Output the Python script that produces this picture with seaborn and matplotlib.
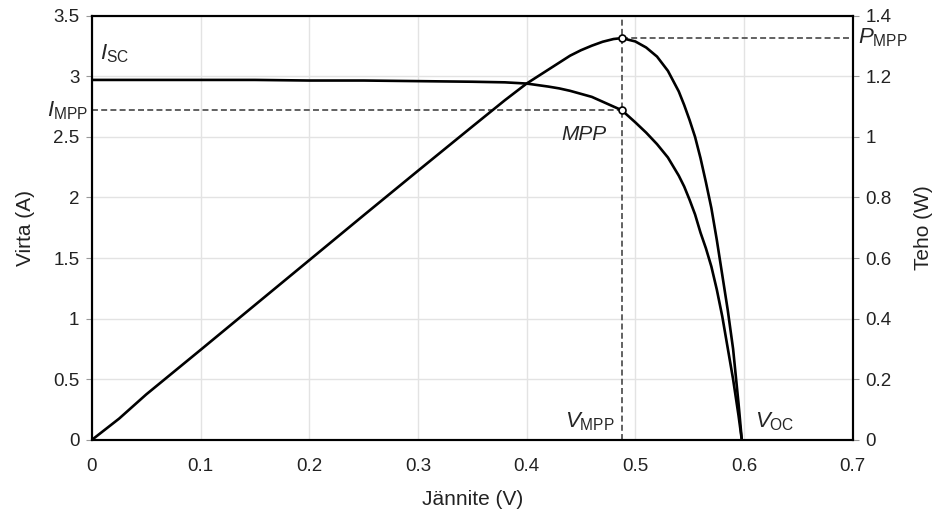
import matplotlib
matplotlib.use("Agg")
import matplotlib.pyplot as plt
import seaborn as sns

# Data read from the I-V / P-V chart of a solar cell
voltage = [0.0, 0.025, 0.05, 0.1, 0.15, 0.2, 0.25, 0.3, 0.35, 0.38, 0.40, 0.42,
           0.43, 0.44, 0.45, 0.46, 0.47, 0.48, 0.4876, 0.50, 0.51, 0.52, 0.53,
           0.54, 0.545, 0.55, 0.555, 0.56, 0.565, 0.57, 0.575, 0.58, 0.585,
           0.59, 0.595, 0.598]
current = [2.97, 2.97, 2.97, 2.97, 2.97, 2.965, 2.965, 2.96, 2.955, 2.95, 2.94,
           2.915, 2.90, 2.88, 2.855, 2.83, 2.79, 2.75, 2.72, 2.62, 2.535, 2.44,
           2.33, 2.18, 2.09, 1.98, 1.86, 1.71, 1.58, 1.43, 1.24, 1.02, 0.76,
           0.50, 0.20, 0.0]
power = [0.0, 0.07, 0.15, 0.297, 0.445, 0.593, 0.741, 0.888, 1.034, 1.121,
         1.176, 1.222, 1.245, 1.268, 1.286, 1.301, 1.314, 1.323, 1.326, 1.315,
         1.295, 1.265, 1.218, 1.15, 1.105, 1.055, 1.0, 0.93, 0.85, 0.765, 0.66,
         0.545, 0.43, 0.30, 0.12, 0.0]

v_mpp = 0.4876
i_mpp = 2.72
p_mpp = 1.326
v_oc = 0.598
i_sc = 2.97

x_ticks = [0, 0.1, 0.2, 0.3, 0.4, 0.5, 0.6, 0.7]
i_ticks = [0, 0.5, 1, 1.5, 2, 2.5, 3, 3.5]
p_ticks = [0, 0.2, 0.4, 0.6, 0.8, 1, 1.2, 1.4]

sns.set_style("whitegrid")
plt.rcParams['font.family'] = ['Liberation Sans', 'DejaVu Sans']
plt.rcParams['mathtext.fontset'] = 'custom'
plt.rcParams['mathtext.rm'] = 'Liberation Sans'
plt.rcParams['mathtext.it'] = 'Liberation Sans:italic'

fig, ax = plt.subplots(figsize=(9.38, 5.23), dpi=100)
fig.subplots_adjust(left=0.098, right=0.909, top=0.970, bottom=0.159)
ax2 = ax.twinx()

sns.lineplot(x=voltage, y=current, ax=ax, color='black', linewidth=1.9, sort=False)
sns.lineplot(x=voltage, y=power, ax=ax2, color='black', linewidth=1.9, sort=False)

# MPP guide lines
dash = (0, (3.3, 1.8))
ax.axvline(v_mpp, color='#555555', linestyle=dash, linewidth=1.3, zorder=1)
ax.hlines(i_mpp, 0, v_mpp, color='#555555', linestyle=dash, linewidth=1.3, zorder=1)
ax2.hlines(p_mpp, v_mpp, 0.7, color='#555555', linestyle=dash, linewidth=1.3, zorder=1)
ax.plot([v_mpp], [i_mpp], 'o', mfc='white', mec='black', ms=5, mew=1.2, zorder=5)
ax2.plot([v_mpp], [p_mpp], 'o', mfc='white', mec='black', ms=5, mew=1.2, zorder=5)

ax.set_xlim(0, 0.7)
ax.set_ylim(0, 3.5)
ax2.set_ylim(0, 1.4)
ax.set_xticks(x_ticks)
ax.set_xticklabels([f"{v:g}" for v in x_ticks])
ax.set_yticks(i_ticks)
ax.set_yticklabels([f"{v:g}" for v in i_ticks])
ax2.set_yticks(p_ticks)
ax2.set_yticklabels([f"{v:g}" for v in p_ticks])

ax.grid(True, color='#e3e3e3', linewidth=1.0)
ax2.grid(False)
for a in (ax, ax2):
    a.tick_params(axis='both', labelsize=13.5, length=4, width=0.8, color='#999999',
                  direction='out', pad=5, labelcolor='#222222')
    for s in a.spines.values():
        s.set_color('black')
        s.set_linewidth(1.5)
ax.tick_params(axis='x', pad=9)

ax.set_xlabel("Jännite (V)", fontsize=15, labelpad=11, color='#222222')
ax.set_ylabel("Virta (A)", fontsize=15, labelpad=13, color='#222222')
ax2.set_ylabel("Teho (W)", fontsize=15, labelpad=16, color='#222222')

# annotations
ax.text(0.007, i_sc + 0.12, r'$I_{\rm SC}$', fontsize=16, ha='left', va='bottom')
ax.text(-0.004, i_mpp, r'$I_{\rm MPP}$', fontsize=16, ha='right', va='center')
ax2.text(0.705, p_mpp, r'$P_{\rm MPP}$', fontsize=16, ha='left', va='center')
ax.text(v_mpp - 0.014, 2.52, 'MPP', fontsize=15, style='italic', ha='right', va='center')
ax.text(v_mpp - 0.007, 0.06, r'$V_{\rm MPP}$', fontsize=16, ha='right', va='bottom')
ax.text(v_oc + 0.012, 0.06, r'$V_{\rm OC}$', fontsize=16, ha='left', va='bottom')

fig.savefig("out.png", dpi=100)
